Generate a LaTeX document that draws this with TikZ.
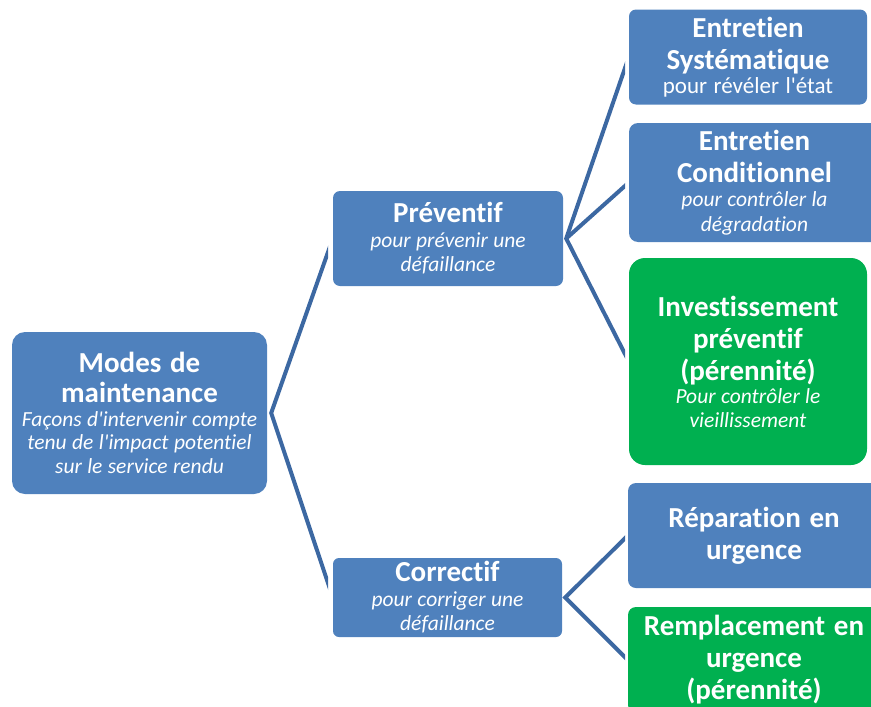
\documentclass[tikz,border=0pt]{standalone}
\usepackage{fontspec}
\setmainfont{Carlito}[Ligatures={NoCommon}]
\usetikzlibrary{backgrounds}
\definecolor{boxblue}{HTML}{4F81BD}
\definecolor{boxgreen}{HTML}{00B050}
\definecolor{linkblue}{HTML}{3C68A2}
\newcommand{\ttl}[1]{{\bfseries\fontsize{29}{32}\selectfont\spaceskip=.3em\relax #1\par}}
\newcommand{\ttlroot}[1]{{\bfseries\fontsize{29}{30}\selectfont\spaceskip=.3em\relax #1\par}}
\newcommand{\subit}[1]{{\itshape\fontsize{21.5}{23.5}\selectfont\spaceskip=.25em\relax #1\par}}
\newcommand{\subitm}[1]{{\itshape\fontsize{21.5}{24.5}\selectfont\spaceskip=.25em\relax #1\par}}
\newcommand{\subup}[1]{{\fontsize{23}{24}\selectfont\spaceskip=.28em\relax #1\par}}
\newcommand{\apo}{\textquotesingle}
\begin{document}
\begin{tikzpicture}[x=1pt,y=-1pt,
  boxstyle/.style={rounded corners=#1, text=white, align=center, inner sep=0pt},
  bluebox/.style={boxstyle=#1, fill=boxblue},
  greenbox/.style={boxstyle=#1, fill=boxgreen},
  link/.style={draw=linkblue, line width=4pt, line join=miter, line cap=butt}]
\useasboundingbox (0,0) rectangle (871,707);
\clip (0,0) rectangle (871,707);

\node[bluebox=13pt, minimum width=255pt, minimum height=162pt, text width=252pt] (root) at (139.5,413)
  {\ttlroot{Modes de\\maintenance}\subit{Façons d\apo intervenir compte\\tenu de l\apo impact potentiel\\sur le service rendu}};
\node[bluebox=7pt, minimum width=230pt, minimum height=95pt, text width=225pt] (prev) at (448,238.5)
  {\ttl{Préventif}\subitm{pour prévenir une\\défaillance}};
\node[bluebox=6pt, minimum width=229pt, minimum height=79pt, text width=225pt] (corr) at (447.5,597.5)
  {\ttl{Correctif}\subitm{pour corriger une\\défaillance}};
\node[bluebox=7pt, minimum width=238pt, minimum height=95pt, text width=234pt] (sys) at (748,57)
  {\ttl{Entretien\\Systématique}\subup{pour révéler l\apo état}};
\node[bluebox=9pt, minimum width=251pt, minimum height=119pt, text width=234pt] (cond) at (754.5,182.5)
  {\ttl{Entretien\\Conditionnel}\subitm{pour contrôler la\\dégradation}};
\node[greenbox=16pt, minimum width=238pt, minimum height=207pt, text width=234pt] (inv) at (748,361.5)
  {\ttl{Investissement\\préventif\\(pérennité)}\subit{Pour contrôler le\\vieillissement}};
\node[bluebox=8pt, minimum width=252pt, minimum height=105pt, text width=250pt] (rep) at (754,535.5)
  {\ttl{Réparation en\\urgence}};
\node[greenbox=8pt, minimum width=252pt, minimum height=106pt, text width=250pt] (rem) at (754,660)
  {\ttl{Remplacement en\\urgence\\(pérennité)}};

\begin{scope}[on background layer]
  \begin{scope}
    \clip (0,0) rectangle (328,707);
    \draw[link] (prev.west) -- ([xshift=4pt]root.east) -- (corr.west);
  \end{scope}
  \begin{scope}
    \clip (0,0) rectangle (625,707);
    \draw[link] (sys.west) -- ([xshift=3pt]prev.east) -- (inv.west);
    \draw[link] ([xshift=3pt]prev.east) -- (cond.west);
    \draw[link] (rep.west) -- ([xshift=3pt]corr.east) -- (rem.west);
  \end{scope}
\end{scope}
\end{tikzpicture}
\end{document}
